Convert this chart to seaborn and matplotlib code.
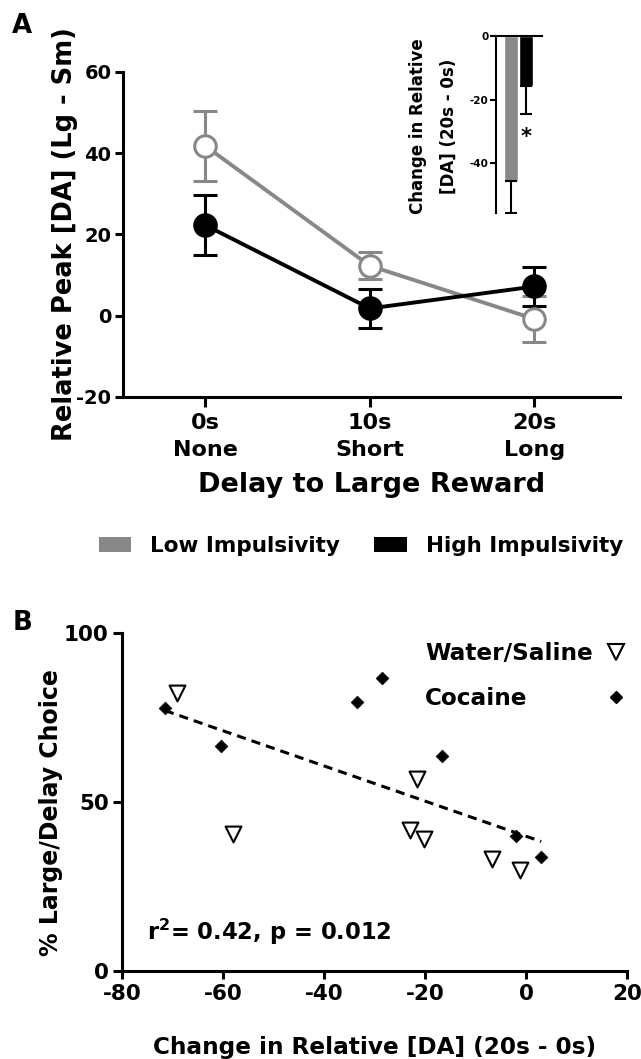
import numpy as np
import pandas as pd
import matplotlib
matplotlib.use('Agg')
import matplotlib.pyplot as plt
import seaborn as sns
from matplotlib.patches import Patch
from matplotlib.lines import Line2D

# Panel A: relative peak [DA] (large - small) by delay, mean +/- SEM
delays = ['0s\nNone', '10s\nShort', '20s\nLong']
low_mean = [41.8, 12.3, -0.8]
low_sem = [8.7, 3.3, 5.6]
high_mean = [22.3, 1.8, 7.2]
high_sem = [7.3, 4.9, 4.8]

# Inset: change in relative [DA] (20s - 0s)
groups = ['Low Impulsivity', 'High Impulsivity']
change_mean = [-45.5, -15.8]
change_sem = [10.3, 8.6]

# Panel B: % large/delay choice vs change in [DA]
saline_x = [-69.2, -58.0, -21.5, -22.9, -20.2, -6.7, -1.1]
saline_y = [82.2, 40.4, 56.7, 41.6, 39.1, 33.2, 29.9]
cocaine_x = [-71.5, -60.4, -33.4, -28.6, -16.6, -2.0, 3.0]
cocaine_y = [77.9, 66.6, 79.7, 86.6, 63.6, 39.8, 33.7]
stats_text = 'r$^2$= 0.42, p = 0.012'

GRAY = '#888888'

sns.set_style('ticks', {'axes.edgecolor': 'black', 'xtick.color': 'black',
                        'ytick.color': 'black', 'text.color': 'black',
                        'axes.labelcolor': 'black'})
plt.rcParams['font.family'] = ['DejaVu Sans']
plt.rcParams['font.weight'] = 'bold'
plt.rcParams['axes.labelweight'] = 'bold'
plt.rcParams['mathtext.default'] = 'bf'
plt.rcParams['axes.unicode_minus'] = False

W, H = 641, 1059
fig = plt.figure(figsize=(W / 100, H / 100), dpi=100)

# ---------------- panel A ----------------
axA = fig.add_axes([123 / W, 1 - 397 / H, 497 / W, 325 / H])
x = np.arange(len(delays))

for mean, sem, col, face in [(low_mean, low_sem, GRAY, 'white'),
                             (high_mean, high_sem, 'black', 'black')]:
    axA.errorbar(x, mean, yerr=sem, fmt='none', ecolor=col, elinewidth=2.2,
                 capsize=8.5, capthick=2.2, zorder=2)
    sns.lineplot(x=x, y=mean, color=col, lw=2.8, marker='o', ms=15.5,
                 mfc=face, mec=col, mew=2.2, ax=axA, zorder=3)

axA.set_xticks(x, delays)
axA.set_xlim(-0.5, 2.52)
axA.set_ylim(-20, 60)
axA.set_yticks([-20, 0, 20, 40, 60])
sns.despine(ax=axA)
for s in axA.spines.values():
    s.set_linewidth(2.2)
axA.tick_params(axis='x', width=2.2, length=7, labelsize=16, pad=4.5)
axA.tick_params(axis='y', width=2.2, length=5.8, labelsize=14, pad=2.5)
for t in axA.get_xticklabels():
    t.set_linespacing(1.45)
axA.set_xlabel('Delay to Large Reward', fontsize=19.5, va='top')
axA.xaxis.set_label_coords(0.5, -(472 - 397) / 325)
axA.set_ylabel('Relative Peak [DA] (Lg - Sm)', fontsize=18.5)
axA.yaxis.set_label_coords((78 - 123) / 497, 0.5)

# ---------------- inset ----------------
axI = fig.add_axes([496 / W, 1 - 213 / H, 46 / W, 177 / H])
sns.barplot(x=groups, y=change_mean, hue=groups, palette=[GRAY, 'black'],
            width=0.98, saturation=1, legend=False, ax=axI)
axI.errorbar(np.arange(len(groups)), change_mean,
             yerr=[change_sem, [0] * len(groups)], fmt='none', ecolor='black',
             elinewidth=1.5, capsize=4.5, capthick=1.5)
axI.text(1, -28.6, '*', ha='center', va='top', fontsize=15)
axI.set_ylim(-55.7, 0)
axI.set_xlim(-1.0, 2.07)
axI.set_yticks([-40, -20, 0])
axI.set_xticks([])
sns.despine(ax=axI, top=False, bottom=True, right=True)
for s in axI.spines.values():
    s.set_linewidth(1.5)
axI.tick_params(axis='y', width=1.5, length=4, labelsize=7.5, pad=1.5)
axI.set_ylabel('Change in Relative\n[DA] (20s - 0s)', fontsize=12,
               linespacing=1.9)
axI.yaxis.set_label_coords((458 - 496) / 46, 0.49)

fig.legend(handles=[Patch(facecolor=GRAY, edgecolor='none'),
                    Patch(facecolor='black', edgecolor='none')],
           labels=groups, ncol=2, loc='center',
           bbox_to_anchor=(361 / W, 1 - 546 / H), frameon=False,
           fontsize=15.5, handlelength=1.53, handleheight=0.65,
           handletextpad=0.88, columnspacing=1.58, borderpad=0)

# ---------------- panel B ----------------
axB = fig.add_axes([122 / W, 1 - 971 / H, 505 / W, 338 / H])
all_x = saline_x + cocaine_x
all_y = saline_y + cocaine_y
sns.regplot(x=all_x, y=all_y, scatter=False, ci=None, truncate=True,
            color='black', line_kws=dict(ls=(0, (3, 2)), lw=2.2), ax=axB)
sns.scatterplot(x=saline_x, y=saline_y, marker='v', s=130, color='white',
                edgecolor='black', linewidth=1.5, ax=axB, zorder=3)
sns.scatterplot(x=cocaine_x, y=cocaine_y, marker='D', s=42, color='black',
                edgecolor='black', linewidth=0.5, ax=axB, zorder=3)
axB.set_xlim(-80, 20)
axB.set_ylim(0, 100)
axB.set_xticks(np.arange(-80, 21, 20))
axB.set_yticks([0, 50, 100])
sns.despine(ax=axB)
for s in axB.spines.values():
    s.set_linewidth(2.2)
axB.tick_params(axis='x', width=2.2, length=5.8, labelsize=15.5, pad=3.6)
axB.tick_params(axis='y', width=2.2, length=6.5, labelsize=15.5, pad=3)
axB.set_xlabel('Change in Relative [DA] (20s - 0s)', fontsize=16.7, va='top')
axB.xaxis.set_label_coords(0.5, -(1036 - 971) / 338)
axB.set_ylabel('% Large/Delay Choice', fontsize=17)
axB.yaxis.set_label_coords((63 - 122) / 505, 0.47)
axB.text(0.05, (971 - 940) / 338, stats_text, transform=axB.transAxes,
         fontsize=16.3, ha='left', va='baseline')

handles = [Line2D([], [], marker='v', ls='none', mfc='white', mec='black',
                  mew=1.5, ms=11.5),
           Line2D([], [], marker='D', ls='none', color='black', ms=6.5)]
leg = axB.legend(handles, ['Water/Saline', 'Cocaine'], markerfirst=False,
                 frameon=False, fontsize=16.7, loc='upper left',
                 bbox_to_anchor=(425 / W, 1 - 642 / H),
                 bbox_transform=fig.transFigure, borderpad=0,
                 borderaxespad=0, handletextpad=0.4, handlelength=1.2,
                 labelspacing=0.95)

fig.text(12 / W, 1 - 13 / H, 'A', fontsize=18.7, fontweight='bold', va='top')
fig.text(13 / W, 1 - 610 / H, 'B', fontsize=18.7, fontweight='bold', va='top')

# legend texts are right-aligned when markerfirst=False; shift them left
fig.canvas.draw()
texts = leg.get_texts()
left0 = texts[0].get_window_extent().x0
for t in texts[1:]:
    dx = t.get_window_extent().x0 - left0
    px, py = t.get_position()
    t.set_position((px - dx, py))

fig.savefig('out.png', dpi=100)
